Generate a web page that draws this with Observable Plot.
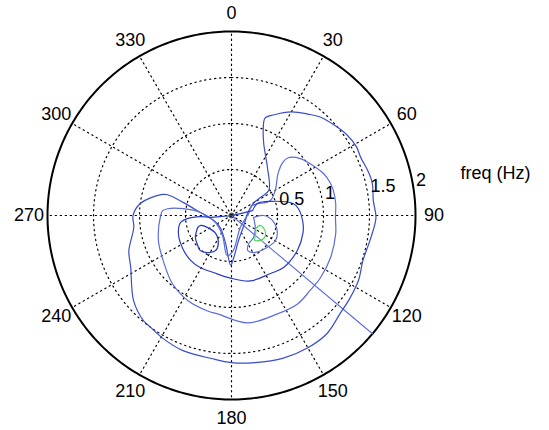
<!DOCTYPE html>
<html><head><meta charset="utf-8">
<script src="https://cdn.jsdelivr.net/npm/d3@7"></script>
<script src="https://cdn.jsdelivr.net/npm/@observablehq/plot@0.6"></script>
<style>body{margin:0;background:#fff}#chart svg{display:block}</style>
</head><body><div id="chart"></div>
<script>
// ---- axis / tick data ----
const angleTicks = [0, 30, 60, 90, 120, 150, 180, 210, 240, 270, 300, 330];
const angleLabels = ["0", "30", "60", "90", "120", "150", "180", "210", "240", "270", "300", "330"];
const ringValues = [0.5, 1, 1.5];
const ringLabelValues = [0.5, 1, 1.5, 2];
const ringLabels = ["0.5", "1", "1.5", "2"];
const rMax = 2;
const radialTitle = "freq (Hz)";

// ---- series (theta in degrees, clockwise from top; r in Hz) ----
const outerTheta = [83, 61, 58, 56, 37, 24, 20, 19, 23, 30, 37, 42, 49, 55, 61, 66, 72, 77, 84, 91, 100, 109, 117, 125, 132, 141, 150, 160, 171, 180, 188, 200, 209, 216, 220, 229, 243, 251, 263, 270, 277.5, 286.5, 288, 285, 275.5, 254, 222.5, 192, 181, 177, 164, 135, 83];
const outerR = [0.175, 0.27, 0.37, 0.49, 0.65, 0.86, 1.01, 1.12, 1.19, 1.30, 1.38, 1.44, 1.49, 1.53, 1.55, 1.54, 1.56, 1.57, 1.55, 1.57, 1.53, 1.51, 1.55, 1.57, 1.59, 1.65, 1.66, 1.65, 1.62, 1.60, 1.57, 1.56, 1.53, 1.50, 1.49, 1.41, 1.23, 1.18, 1.07, 1.07, 1.00, 0.80, 0.73, 0.54, 0.34, 0.20, 0.18, 0.31, 0.54, 0.46, 0.28, 0.18, 0.175];

const middleTheta = [83, 64.5, 69, 60, 48, 44, 44.5, 50.4, 58.6, 65.5, 71.6, 76, 83.4, 91, 100, 113, 125, 133.5, 143, 155, 171.5, 188, 194, 207, 221, 236.5, 251, 270, 274, 276, 278, 275.5, 246, 204, 186, 177, 143, 83];
const middleR = [0.19, 0.25, 0.45, 0.55, 0.68, 0.80, 0.88, 0.97, 1.04, 1.10, 1.13, 1.14, 1.14, 1.13, 1.15, 1.17, 1.18, 1.18, 1.20, 1.18, 1.18, 1.08, 1.07, 1.04, 0.98, 0.89, 0.84, 0.77, 0.75, 0.70, 0.53, 0.34, 0.19, 0.24, 0.44, 0.38, 0.16, 0.19];

const innerTheta = [77, 65, 70, 79, 84, 95.6, 104, 118, 135, 146, 164, 181, 197.5, 211, 222, 236, 251, 262, 266, 268, 265, 264, 0, 77];
const innerR = [0.235, 0.31, 0.45, 0.68, 0.73, 0.78, 0.80, 0.81, 0.80, 0.76, 0.74, 0.68, 0.65, 0.66, 0.66, 0.64, 0.61, 0.56, 0.48, 0.34, 0.23, 0.10, 0, 0.235];

const rightLoopTheta = [95, 90, 97, 110, 120, 132, 149, 155, 149, 135, 117, 95];
const rightLoopR = [0.24, 0.35, 0.45, 0.53, 0.55, 0.52, 0.47, 0.42, 0.36, 0.34, 0.29, 0.24];

const leftLoopTheta = [250.5, 252, 243, 221.6, 205, 204.6, 213, 221.5, 228.6, 238.6, 250.5];
const leftLoopR = [0.39, 0.35, 0.29, 0.26, 0.34, 0.42, 0.48, 0.51, 0.49, 0.46, 0.39];

const greenTheta = [118, 109, 111, 118, 126, 133, 137, 127, 118];
const greenR = [0.30, 0.33, 0.37, 0.42, 0.43, 0.40, 0.37, 0.33, 0.30];

const rayTheta = [130, 130];
const rayR = [0, 2];

// ---- helpers ----
const rad = Math.PI / 180;
const px = (t, r) => r * Math.sin(t * rad);
const py = (t, r) => r * Math.cos(t * rad);
const series = (T, R) => T.map((t, i) => ({theta: t, r: R[i]}));
const X = d => px(d.theta, d.r);
const Y = d => py(d.theta, d.r);

const gridCircles = ringValues.flatMap(rv => d3.range(0, 361, 2).map(t => ({ring: rv, theta: t, r: rv})));
const outerCircle = d3.range(0, 361, 1).map(t => ({theta: t, r: rMax}));
const spokes = angleTicks.flatMap(a => [{a, theta: a, r: 0}, {a, theta: a, r: rMax}]);

const font = "'Liberation Sans', Arial, Helvetica, sans-serif";
const dots = "1.3,3.7";
const smooth = "catmull-rom";

const chart = Plot.plot({
  width: 549,
  height: 430,
  x: {domain: [-2, 2], range: [47, 415], axis: null},
  y: {domain: [-2, 2], range: [399, 31], axis: null},
  style: {fontFamily: font, fontSize: "18px", background: "#fff", overflow: "visible"},
  marks: [
    Plot.line(spokes, {x: X, y: Y, z: "a", stroke: "#000", strokeWidth: 1.2, strokeDasharray: dots}),
    Plot.line(gridCircles, {x: X, y: Y, z: "ring", stroke: "#000", strokeWidth: 1.2, strokeDasharray: dots}),
    Plot.line(outerCircle, {x: X, y: Y, stroke: "#000", strokeWidth: 2}),
    Plot.line(series(rayTheta, rayR), {x: X, y: Y, stroke: "#5b6ee0", strokeWidth: 1.1}),
    Plot.line(series(outerTheta, outerR), {x: X, y: Y, curve: smooth, stroke: "#3a4dcc", strokeWidth: 1.2}),
    Plot.line(series(middleTheta, middleR), {x: X, y: Y, curve: smooth, stroke: "#5b6cdc", strokeWidth: 1.2}),
    Plot.line(series(innerTheta, innerR), {x: X, y: Y, curve: smooth, stroke: "#2a3cc4", strokeWidth: 1.2}),
    Plot.line(series(rightLoopTheta, rightLoopR), {x: X, y: Y, curve: smooth, stroke: "#5b6cdc", strokeWidth: 1.2}),
    Plot.line(series(leftLoopTheta, leftLoopR), {x: X, y: Y, curve: smooth, stroke: "#2233c0", strokeWidth: 1.2}),
    Plot.line(series(greenTheta, greenR), {x: X, y: Y, curve: smooth, stroke: "#44dd44", strokeWidth: 1.1}),
    Plot.dot([{theta: 0, r: 0}], {x: X, y: Y, r: 2.5, stroke: "#333", strokeWidth: 1}),
    Plot.text(angleTicks, {
      x: a => px(a, rMax * 1.1), y: a => py(a, rMax * 1.1),
      text: (a, i) => angleLabels[i], textAnchor: "middle", lineAnchor: "middle",
      fill: "#000", fontSize: 18
    }),
    Plot.text(ringLabelValues, {
      x: v => px(82, v + 0.025), y: v => py(82, v + 0.025),
      text: (v, i) => ringLabels[i], textAnchor: "start", lineAnchor: "bottom",
      dy: -3.5, fill: "#000", fontSize: 18
    }),
    Plot.text([radialTitle], {
      x: () => px(82, rMax + 0.025), y: () => py(82, rMax + 0.025),
      text: d => d, textAnchor: "start", lineAnchor: "bottom",
      dx: 44.5, dy: -11, fill: "#000", fontSize: 18
    })
  ]
});
document.getElementById("chart").appendChild(chart);
</script>
</body></html>
